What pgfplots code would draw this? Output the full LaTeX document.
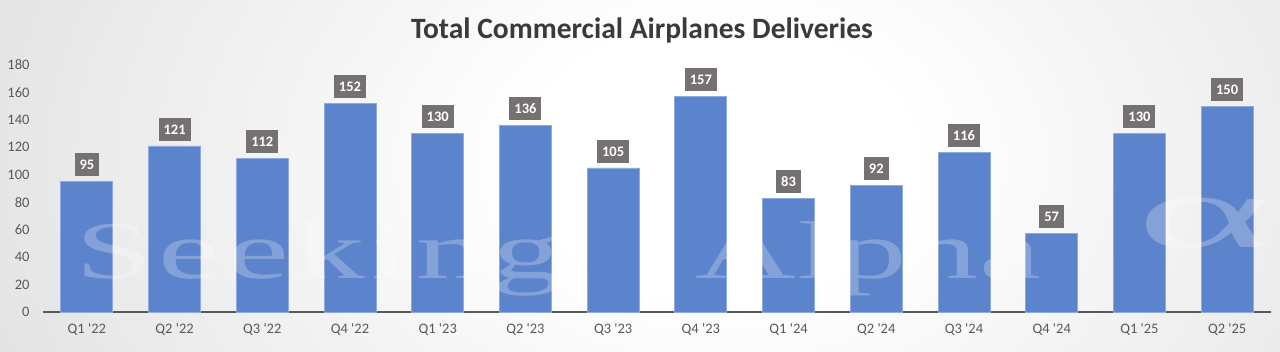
\documentclass[border=0pt]{standalone}
\usepackage{pgfplots}
\pgfplotsset{compat=1.18}
\usepackage{fontspec}
\setmainfont{Carlito}
\newfontfamily\wmfont{Liberation Serif}
\definecolor{barblue}{HTML}{5B84CC}
\definecolor{baredge}{HTML}{8FAADF}
\definecolor{lblgray}{HTML}{767171}
\definecolor{tickgray}{HTML}{595959}
\definecolor{titlegray}{HTML}{3A3A3A}
\pgfdeclareradialshading{bgsh}{\pgfpointorigin}{color(0bp)=(white); color(6bp)=(white); color(50bp)=(black!26); color(80bp)=(black!26)}
\newcommand{\q}{\textquotesingle}
\begin{document}
\begin{tikzpicture}[x=1pt,y=1pt]
\useasboundingbox (0,0) rectangle (1280,351);
\begin{scope}
\clip (0,0) rectangle (1280,351);
\shade[shading=bgsh] (720,190) ellipse (800 and 560);
\end{scope}
\node[font=\bfseries\fontsize{29.5}{29.5}\selectfont, text=titlegray] at (642,321) {Total Commercial Airplanes Deliveries};
\begin{axis}[
  at={(43pt,39pt)}, anchor=south west,
  scale only axis, width=1228pt, height=247pt,
  xmin=-0.5, xmax=13.5, ymin=0, ymax=180,
  ytick={0,20,...,180},
  xtick={0,...,13},
  xticklabels={Q1 \q22,Q2 \q22,Q3 \q22,Q4 \q22,Q1 \q23,Q2 \q23,Q3 \q23,Q4 \q23,Q1 \q24,Q2 \q24,Q3 \q24,Q4 \q24,Q1 \q25,Q2 \q25},
  axis lines*=left,
  y axis line style={draw=none},
  x axis line style={draw=tickgray, line width=1.5pt},
  major tick length=0pt,
  tick style={draw=none},
  /pgf/number format/assume math mode=true,
  ticklabel style={font=\fontsize{14.5}{14.5}\selectfont, text=tickgray},
  yticklabel style={xshift=-10pt},
  xticklabel style={yshift=-8pt},
  ybar, bar width=52pt,
  nodes near coords,
  every node near coord/.append style={anchor=south, yshift=5pt, fill=lblgray, text=white, font=\bfseries\fontsize{14.5}{14.5}\selectfont, inner xsep=5pt, inner ysep=0pt, minimum height=23pt, text height=10pt, text depth=0pt},
]
\addplot[fill=barblue, draw=baredge, line width=0.8pt] coordinates {
(0,95) (1,121) (2,112) (3,152) (4,130) (5,136) (6,105) (7,157) (8,83) (9,92) (10,116) (11,57) (12,130) (13,150)
};
\end{axis}
\begin{scope}[opacity=0.25, text=white]
\node[anchor=base west, inner sep=0pt, xscale=1.7, font=\wmfont\fontsize{82}{82}\selectfont\addfontfeature{LetterSpace=4.5}] at (75,72) {Seeking};
\node[anchor=base west, inner sep=0pt, xscale=1.7, font=\wmfont\fontsize{82}{82}\selectfont\addfontfeature{LetterSpace=1}] at (695,72) {Alpha};
\node[inner sep=0pt, xscale=2.5, font=\wmfont\fontsize{105}{105}\selectfont] at (1205,128) {α};
\end{scope}
\end{tikzpicture}
\end{document}
